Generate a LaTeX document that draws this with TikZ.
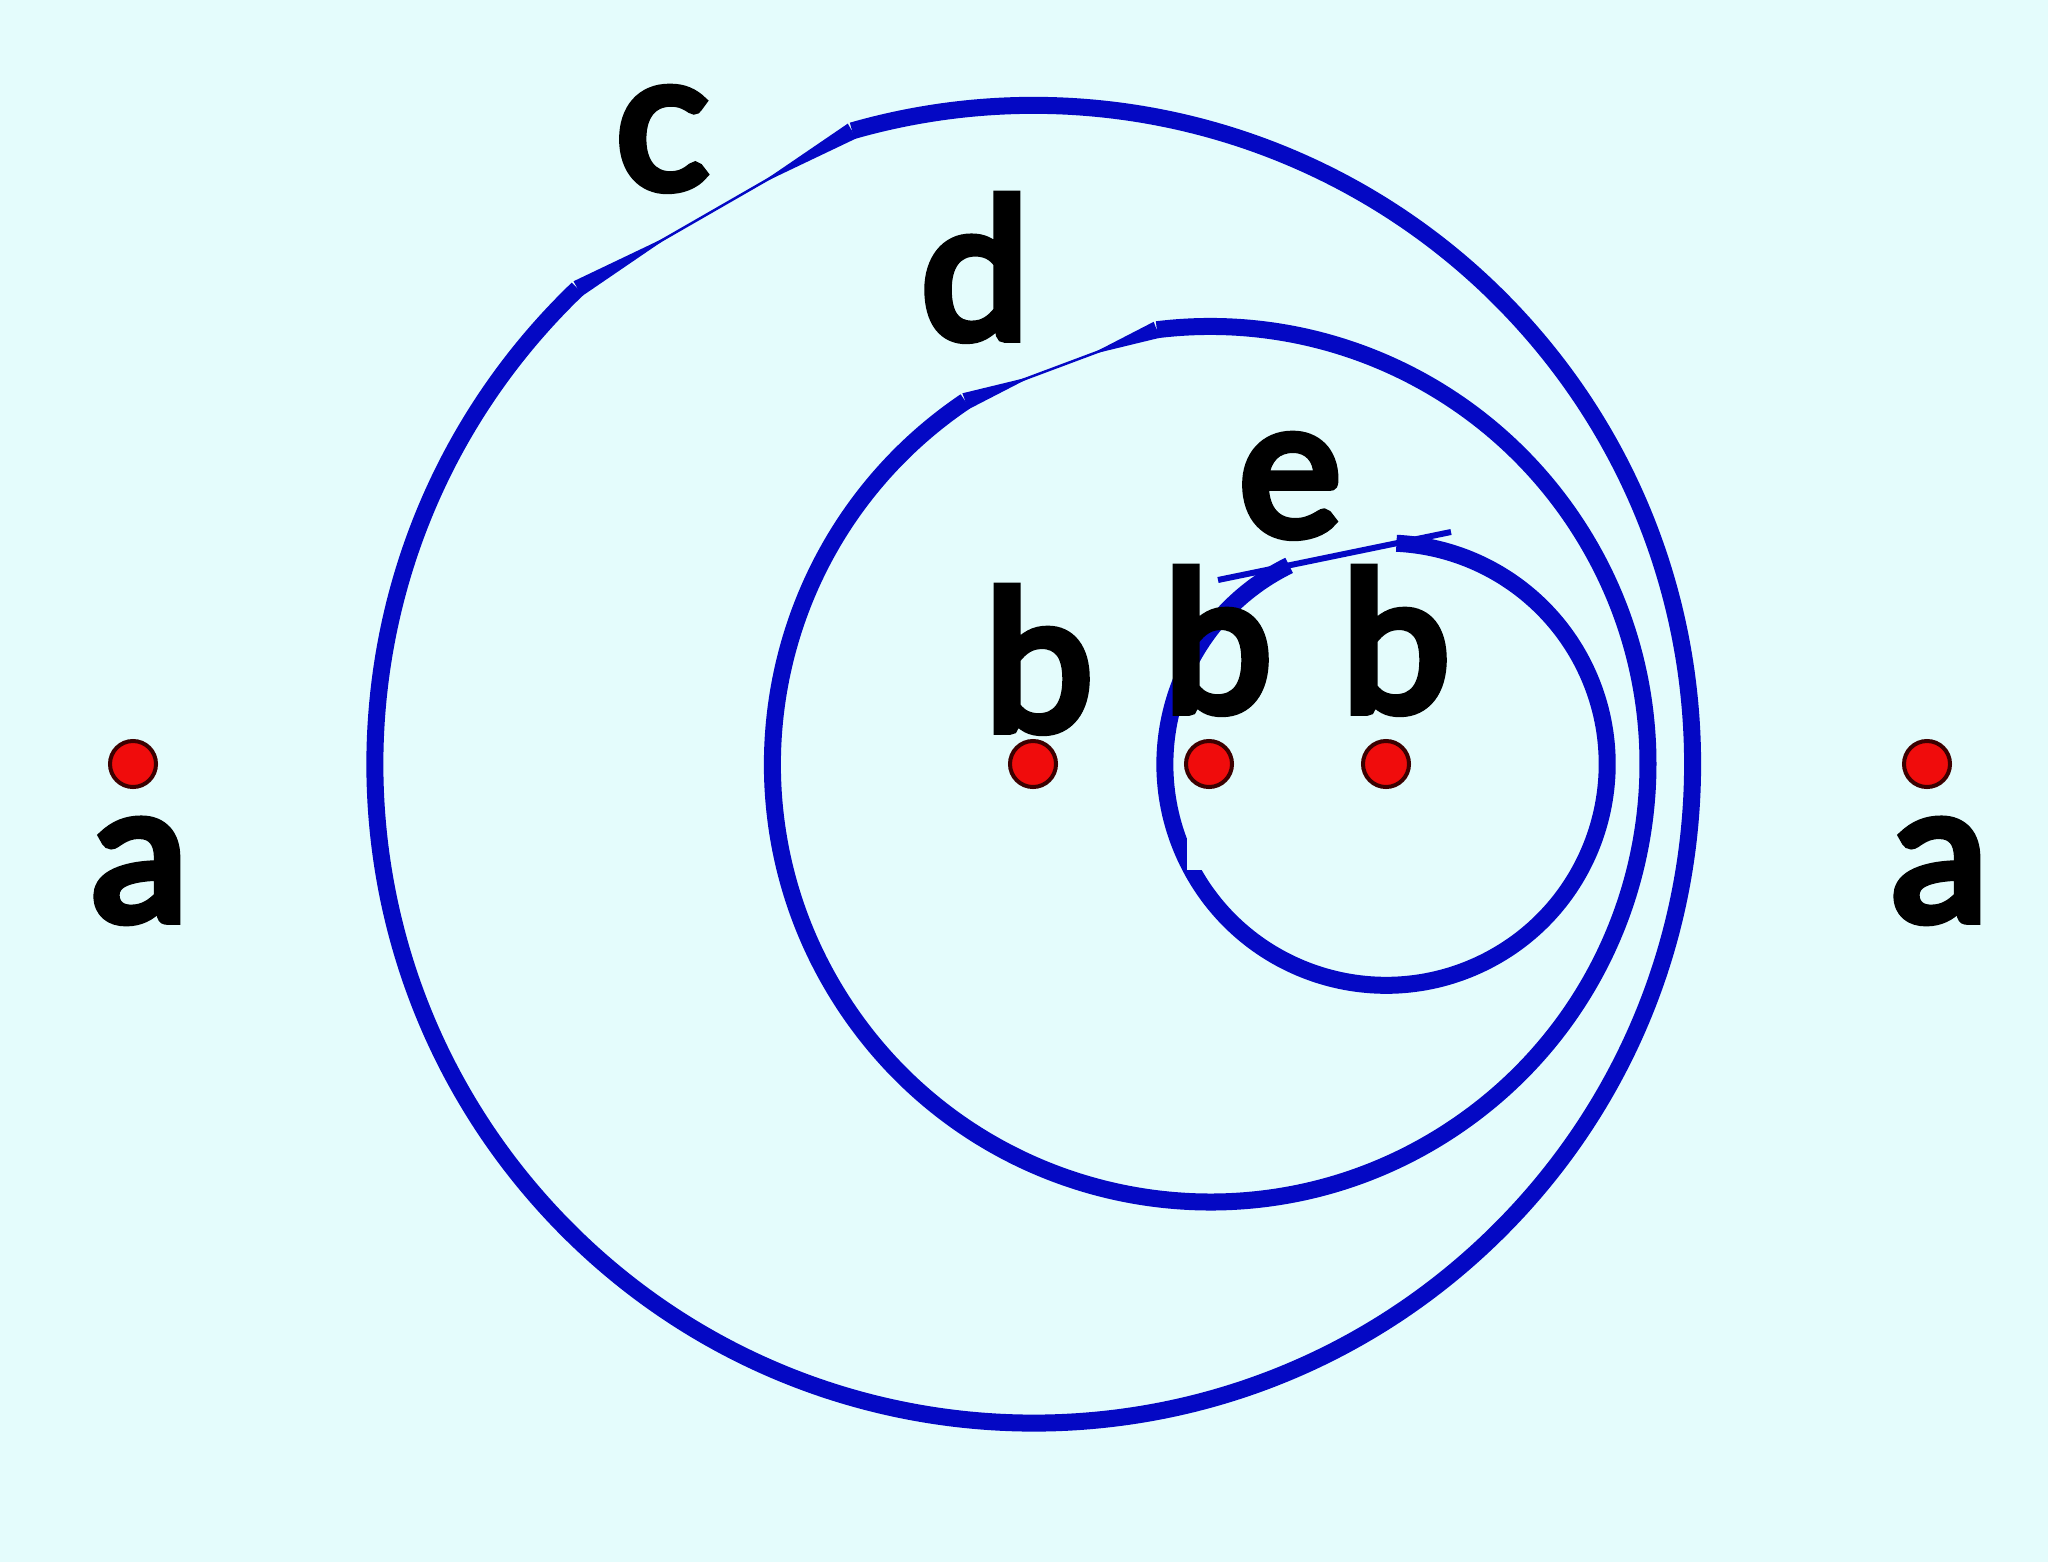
\documentclass[tikz,border=0pt]{standalone}
\usepackage{fontspec}
\newfontfamily\labelfont{Lato}[AutoFakeBold=5]
\definecolor{bgc}{RGB}{228,252,252}
\definecolor{ringc}{RGB}{4,8,196}
\definecolor{dotc}{RGB}{240,12,12}
\definecolor{dotb}{RGB}{60,0,0}
\begin{document}
\begin{tikzpicture}[x=0.01cm,y=0.01cm,
  ring/.style={draw=ringc,line width=0.17cm,line cap=butt},
  cutfill/.style={fill=ringc},
  cutthin/.style={draw=ringc,line width=0.025cm},
  dotn/.style={circle,fill=dotc,draw=dotb,line width=0.04cm,minimum size=0.46cm,inner sep=0pt},
  lbl/.style={font=\labelfont\fontsize{55}{60}\selectfont\bfseries,anchor=base,inner sep=0pt,text=black}]
\fill[bgc] (0,0) rectangle (2048,1562);
\useasboundingbox (0,0) rectangle (2048,1562);
% outer ring (c): centre (1033.5,798), r 658.5
\coordinate (oA) at (577.7,1273.3);
\coordinate (oB) at (852.0,1431.0);
\draw[ring] (oA) arc[start angle=133.8,end angle=466,radius=6.585cm];
\fill[cutfill] (573.5,1280.7) -- (582.0,1265.9) -- (673.7,1328.5) -- cycle;
\fill[cutfill] (847.8,1438.4) -- (856.2,1423.6) -- (756.0,1375.8) -- cycle;
\draw[cutthin] (oA) -- (oB);
% middle ring (d): centre (1210,798), r 437.5
\coordinate (mA) at (965.4,1160.7);
\coordinate (mB) at (1156.7,1232.2);
\draw[ring] (mA) arc[start angle=124,end angle=457,radius=4.375cm];
\fill[cutfill] (962.4,1168.7) -- (968.4,1152.7) -- (1032.4,1185.7) -- cycle;
\fill[cutfill] (1153.7,1240.2) -- (1159.7,1224.2) -- (1089.7,1207.2) -- cycle;
\draw[cutthin] (mA) -- (mB);
% inner ring (e): centre (1386,798), r 221
\coordinate (iA) at (1289.1,996.6);
\draw[ring] (iA) arc[start angle=116,end angle=447.3,radius=2.21cm];
\coordinate (iE1) at (1218,982);
\coordinate (iE2) at (1451,1030);
\draw[ringc,line width=0.06cm] (iE1) -- (iE2);
\fill[bgc] (1187,692) rectangle (1240,860);
% dots
\node[dotn] (p1) at (133,798) {};
\node[dotn] (p2) at (1033,798) {};
\node[dotn] (p3) at (1209,798) {};
\node[dotn] (p4) at (1386,798) {};
\node[dotn] (p5) at (1927,798) {};
% labels
\node[lbl] (la1) at (140,642) {a};
\node[lbl] (la2) at (1940,642) {a};
\node[lbl] (lc) at (662,1374) {c};
\node[lbl] (ld) at (975,1224) {d};
\node[lbl] (le) at (1290,1027) {e};
\node[lbl] (lb1) at (1039,832) {b};
\node[lbl] (lb2) at (1218,851) {b};
\node[lbl] (lb3) at (1396,851) {b};
\end{tikzpicture}
\end{document}
